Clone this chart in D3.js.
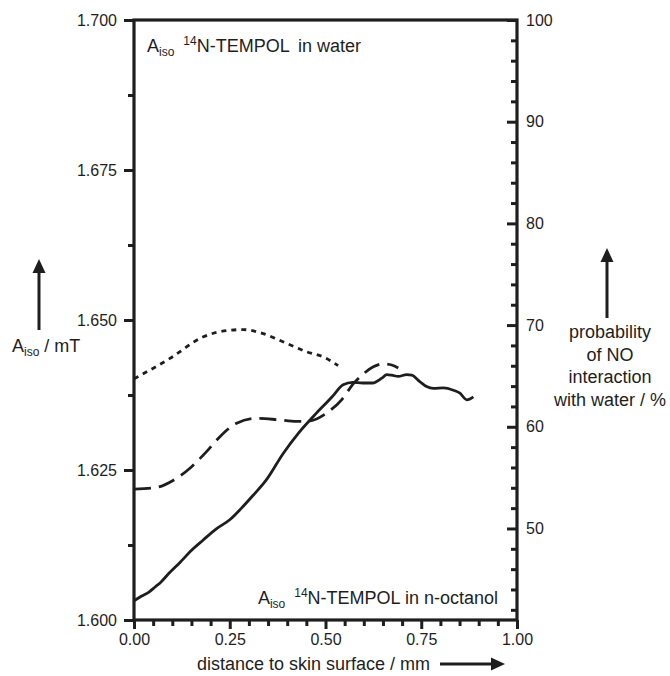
<!DOCTYPE html>
<html><head><meta charset="utf-8">
<script src="https://cdn.jsdelivr.net/npm/d3@7"></script>
<style>
body{margin:0;background:#fff;}
text{font-family:"Liberation Sans",Arial,sans-serif;fill:#1e1e1e;}
</style></head>
<body>
<svg id="chart" width="670" height="676"></svg>
<script>
// ---- data ----
const solidX = [0.00,0.02,0.04,0.055,0.07,0.09,0.12,0.155,0.18,0.215,0.25,0.28,0.31,0.345,0.39,0.43,0.475,0.51,0.52,0.546,0.571,0.597,0.623,0.647,0.66,0.673,0.69,0.712,0.725,0.747,0.764,0.782,0.808,0.834,0.851,0.869,0.886];
const solidY = [1.6032,1.6040,1.6047,1.6055,1.6063,1.6077,1.6096,1.6119,1.6133,1.6152,1.6167,1.6186,1.6207,1.6233,1.6278,1.6312,1.6344,1.6367,1.6374,1.6392,1.6396,1.6395,1.6395,1.6403,1.6409,1.6408,1.6406,1.6409,1.6408,1.6397,1.6389,1.6386,1.6387,1.6383,1.6378,1.6367,1.6372];
const dashedX = [0.00,0.059,0.103,0.146,0.190,0.225,0.268,0.320,0.373,0.425,0.460,0.503,0.542,0.573,0.595,0.625,0.651,0.673,0.690];
const dashedY = [1.6218,1.6221,1.6233,1.6253,1.6281,1.6306,1.6328,1.6336,1.6334,1.6331,1.6332,1.6345,1.6367,1.6394,1.6408,1.6422,1.6427,1.6425,1.6420];
const dottedX = [0.00,0.094,0.181,0.251,0.285,0.329,0.399,0.451,0.496,0.533];
const dottedY = [1.6402,1.6436,1.6472,1.6483,1.6484,1.6479,1.6461,1.6447,1.6438,1.6424];
const xMajor = [0,0.25,0.5,0.75,1.0];
const xLabels = ["0.00","0.25","0.50","0.75","1.00"];
const yLeftMajor = [1.600,1.625,1.650,1.675,1.700];
const yLeftLabels = ["1.600","1.625","1.650","1.675","1.700"];
const yRightMajor = [50,60,70,80,90,100];

const svg = d3.select("#chart");
const L=134, R=517, T=20, B=620;
const ink = "#1e1e1e";
const x = d3.scaleLinear().domain([0,1]).range([L,R]);
const yL = d3.scaleLinear().domain([1.600,1.700]).range([B,T]);
const yR = d3.scaleLinear().domain([41,100]).range([B,T]);

function styleAxis(g){
  g.select(".domain").remove();
  g.selectAll("line").attr("stroke",ink).attr("stroke-width",3);
  g.selectAll("text").attr("font-size",16).attr("fill",ink).style("font-family","'Liberation Sans',Arial,sans-serif");
}
// minor ticks
const xMinor = d3.range(0,1.0001,0.05).filter(v=>Math.abs(v*4-Math.round(v*4))>1e-6);
const yLMinor = d3.range(1.600,1.70001,0.0125).filter(v=>Math.abs((v-1.6)/0.025-Math.round((v-1.6)/0.025))>1e-6);
const yRMinor = d3.range(42,100,2).filter(v=>v%10!==0);

svg.append("g").attr("transform",`translate(0,${B})`)
  .call(d3.axisBottom(x).tickValues(xMinor).tickSize(6).tickFormat(""))
  .call(styleAxis);
svg.append("g").attr("transform",`translate(0,${B})`)
  .call(d3.axisBottom(x).tickValues(xMajor).tickSize(9).tickPadding(5).tickFormat((d,i)=>xLabels[i]))
  .call(styleAxis);
svg.append("g").attr("transform",`translate(${L},0)`)
  .call(d3.axisLeft(yL).tickValues(yLMinor).tickSize(6).tickFormat(""))
  .call(styleAxis);
svg.append("g").attr("transform",`translate(${L},0)`)
  .call(d3.axisLeft(yL).tickValues(yLeftMajor).tickSize(10).tickPadding(7).tickFormat((d,i)=>yLeftLabels[i]))
  .call(styleAxis);
svg.append("g").attr("transform",`translate(${R},0)`)
  .call(d3.axisRight(yR).tickValues(yRMinor).tickSize(-6).tickFormat(""))
  .call(styleAxis);
svg.append("g").attr("transform",`translate(${R},0)`)
  .call(d3.axisRight(yR).tickValues(yRightMajor).tickSize(-10).tickPadding(9).tickFormat(d3.format("d")))
  .call(styleAxis);

// frame
svg.append("rect").attr("x",L).attr("y",T).attr("width",R-L).attr("height",B-T)
  .attr("fill","none").attr("stroke",ink).attr("stroke-width",3.2);

// curves
const line = (xs,ys)=>d3.line().x((d,i)=>x(xs[i])).y((d,i)=>yL(ys[i])).curve(d3.curveMonotoneX)(xs);
svg.append("path").attr("d",line(solidX,solidY)).attr("fill","none").attr("stroke",ink).attr("stroke-width",2.8).attr("stroke-linejoin","round");
svg.append("path").attr("d",line(dashedX,dashedY)).attr("fill","none").attr("stroke",ink).attr("stroke-width",2.8).attr("stroke-dasharray","17,8");
svg.append("path").attr("d",line(dottedX,dottedY)).attr("fill","none").attr("stroke",ink).attr("stroke-width",2.8).attr("stroke-dasharray","5,5");

// annotations
function aisoText(xp,yp,rest,anchor,gap){
  const t = svg.append("text").attr("x",xp).attr("y",yp).attr("font-size",18).attr("text-anchor",anchor||"start");
  t.append("tspan").text("A");
  t.append("tspan").attr("font-size",12).attr("dy",4).text("iso");
  t.append("tspan").attr("font-size",12).attr("dy",-11).attr("dx",9).text("14");
  t.append("tspan").attr("dy",7).text(rest[0]);
  t.append("tspan").attr("dx",gap||0).text(rest[1]);
  return t;
}
aisoText(147,52,["N-TEMPOL ","in water"],"start",4);
aisoText(498,604,["N-TEMPOL ","in n-octanol"],"end",0);

// left label
const tl = svg.append("text").attr("x",12).attr("y",352).attr("font-size",18);
tl.append("tspan").text("A");
tl.append("tspan").attr("font-size",12).attr("dy",4).text("iso");
tl.append("tspan").attr("dy",-4).text(" / mT");

// right label
const rl = ["probability","of NO","interaction","with water / %"];
svg.append("g").selectAll("text").data(rl).join("text")
  .attr("x",610).attr("y",(d,i)=>338+i*22.5).attr("font-size",18).attr("text-anchor","middle").text(d=>d);

// bottom label
svg.append("text").attr("x",197).attr("y",670).attr("font-size",18).text("distance to skin surface / mm");

// arrows
function arrow(x1,y1,x2,y2){
  const ang = Math.atan2(y2-y1,x2-x1), hl=14, hw=6.5;
  const bx = x2-hl*Math.cos(ang), by = y2-hl*Math.sin(ang);
  svg.append("line").attr("x1",x1).attr("y1",y1).attr("x2",bx).attr("y2",by).attr("stroke",ink).attr("stroke-width",3);
  const px=-Math.sin(ang)*hw, py=Math.cos(ang)*hw;
  svg.append("path").attr("d",`M${x2},${y2}L${bx+px},${by+py}L${bx-px},${by-py}Z`).attr("fill",ink);
}
arrow(39,330,39,259);
arrow(607,318,607,248);
arrow(440,664,505,664);
</script>
</body></html>
